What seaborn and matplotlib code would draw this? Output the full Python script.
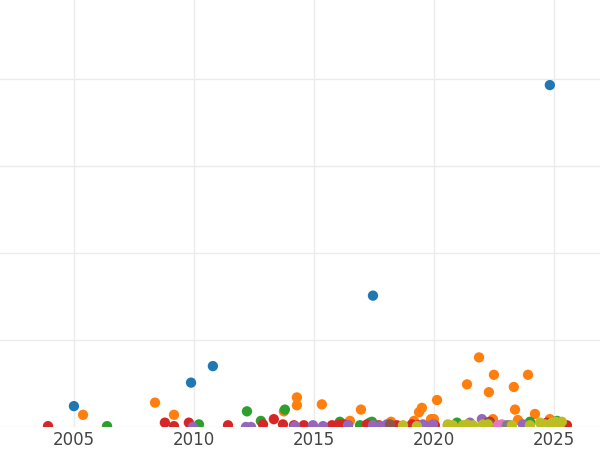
import matplotlib
matplotlib.use("Agg")
import matplotlib.pyplot as plt
import numpy as np
import pandas as pd
import seaborn as sns

# values (x = year, y = value, grid step = 100)
blue_x = [2005.0, 2009.88, 2010.79, 2017.46, 2024.83]
blue_y = [24, 51, 70, 151, 393]

orange_x = [2005.38, 2008.38, 2009.17, 2013.75, 2014.29, 2014.29, 2015.33, 2016.5, 2016.96,
            2018.21, 2019.17, 2019.38, 2019.5, 2019.88, 2020.0, 2020.13, 2021.38, 2021.88,
            2022.29, 2022.5, 2022.46, 2023.33, 2023.38, 2023.5, 2023.92, 2024.21, 2024.83]
orange_y = [14, 28, 14, 18, 34, 25, 26, 7, 20,
            6, 7, 17, 22, 9, 9, 31, 49, 80,
            40, 60, 9, 46, 20, 8, 60, 15, 9]

green_x = [2006.38, 2010.21, 2012.21, 2012.79, 2013.79, 2016.08, 2016.92, 2017.33, 2017.42,
           2020.96, 2024.0, 2025.13]
green_y = [1, 3, 18, 7, 20, 6, 2, 5, 6, 5, 6, 7]

red_x = [2003.92, 2008.79, 2009.17, 2009.79, 2011.42, 2012.88, 2013.33, 2013.71, 2014.17,
         2014.58, 2015.75, 2015.96, 2016.08, 2016.25, 2016.42, 2017.21, 2017.71, 2018.46,
         2019.08, 2019.33, 2020.04, 2020.58, 2021.5, 2022.33, 2024.71, 2025.38, 2025.54]
red_y = [1, 5, 1, 5, 2, 3, 9, 3, 2,
         2, 2, 2, 3, 3, 2, 3, 2, 2,
         3, 2, 2, 2, 3, 6, 5, 3, 2]

purple_x = [2009.96, 2012.17, 2012.38, 2014.21, 2014.96, 2015.38, 2016.42, 2017.46, 2017.75,
            2018.04, 2019.54, 2019.71, 2019.96, 2021.5, 2022.0, 2022.75, 2023.71]
purple_y = [0, 0, 0, 1, 2, 1, 2, 2, 1, 3, 3, 1, 3, 5, 9, 2, 3]

brown_x = [2018.17, 2022.21, 2022.38]
brown_y = [3, 5, 3]

pink_x = [2022.67, 2022.83]
pink_y = [2, 3]

gray_x = [2023.04, 2023.17]
gray_y = [2, 2]

olive_x = [2018.71, 2019.29, 2020.58, 2020.79, 2021.21, 2021.38, 2021.63, 2022.04, 2022.25,
           2023.25, 2024.0, 2024.42, 2024.63, 2024.92, 2025.08, 2025.25, 2025.33]
olive_y = [2, 1, 3, 2, 2, 3, 2, 3, 3, 2, 2, 5, 3, 5, 6, 3, 6]

series = [
    ("blue", blue_x, blue_y),
    ("orange", orange_x, orange_y),
    ("green", green_x, green_y),
    ("red", red_x, red_y),
    ("purple", purple_x, purple_y),
    ("brown", brown_x, brown_y),
    ("pink", pink_x, pink_y),
    ("gray", gray_x, gray_y),
    ("olive", olive_x, olive_y),
]

# long table for seaborn
rows = []
for name, xs, ys in series:
    for x, y in zip(xs, ys):
        rows.append({"year": x, "value": y, "group": name})
df = pd.DataFrame(rows)

sns.set_theme(style="whitegrid")

fig = plt.figure(figsize=(6, 4.5), dpi=100)
ax = fig.add_axes([0, 23 / 450, 1, 427 / 450])

palette = sns.color_palette("tab10", len(series))
sns.scatterplot(data=df, x="year", y="value", hue="group",
                hue_order=[s[0] for s in series], palette=palette,
                s=55, linewidth=0, legend=False, ax=ax)

ax.set_xlim(2001.92, 2026.92)
ax.set_ylim(0, 490.8)
ax.set_xticks([2005, 2010, 2015, 2020, 2025])
ax.set_yticks([0, 100, 200, 300, 400])
ax.set_yticklabels([])
ax.set_xlabel("")
ax.set_ylabel("")
ax.tick_params(axis="x", labelsize=12, labelcolor="#444444", pad=3, length=0)
ax.tick_params(axis="y", length=0)
ax.grid(True, color="#ebebeb", linewidth=1.0)
for sp in ax.spines.values():
    sp.set_visible(False)

plt.savefig("out.png", dpi=100)
